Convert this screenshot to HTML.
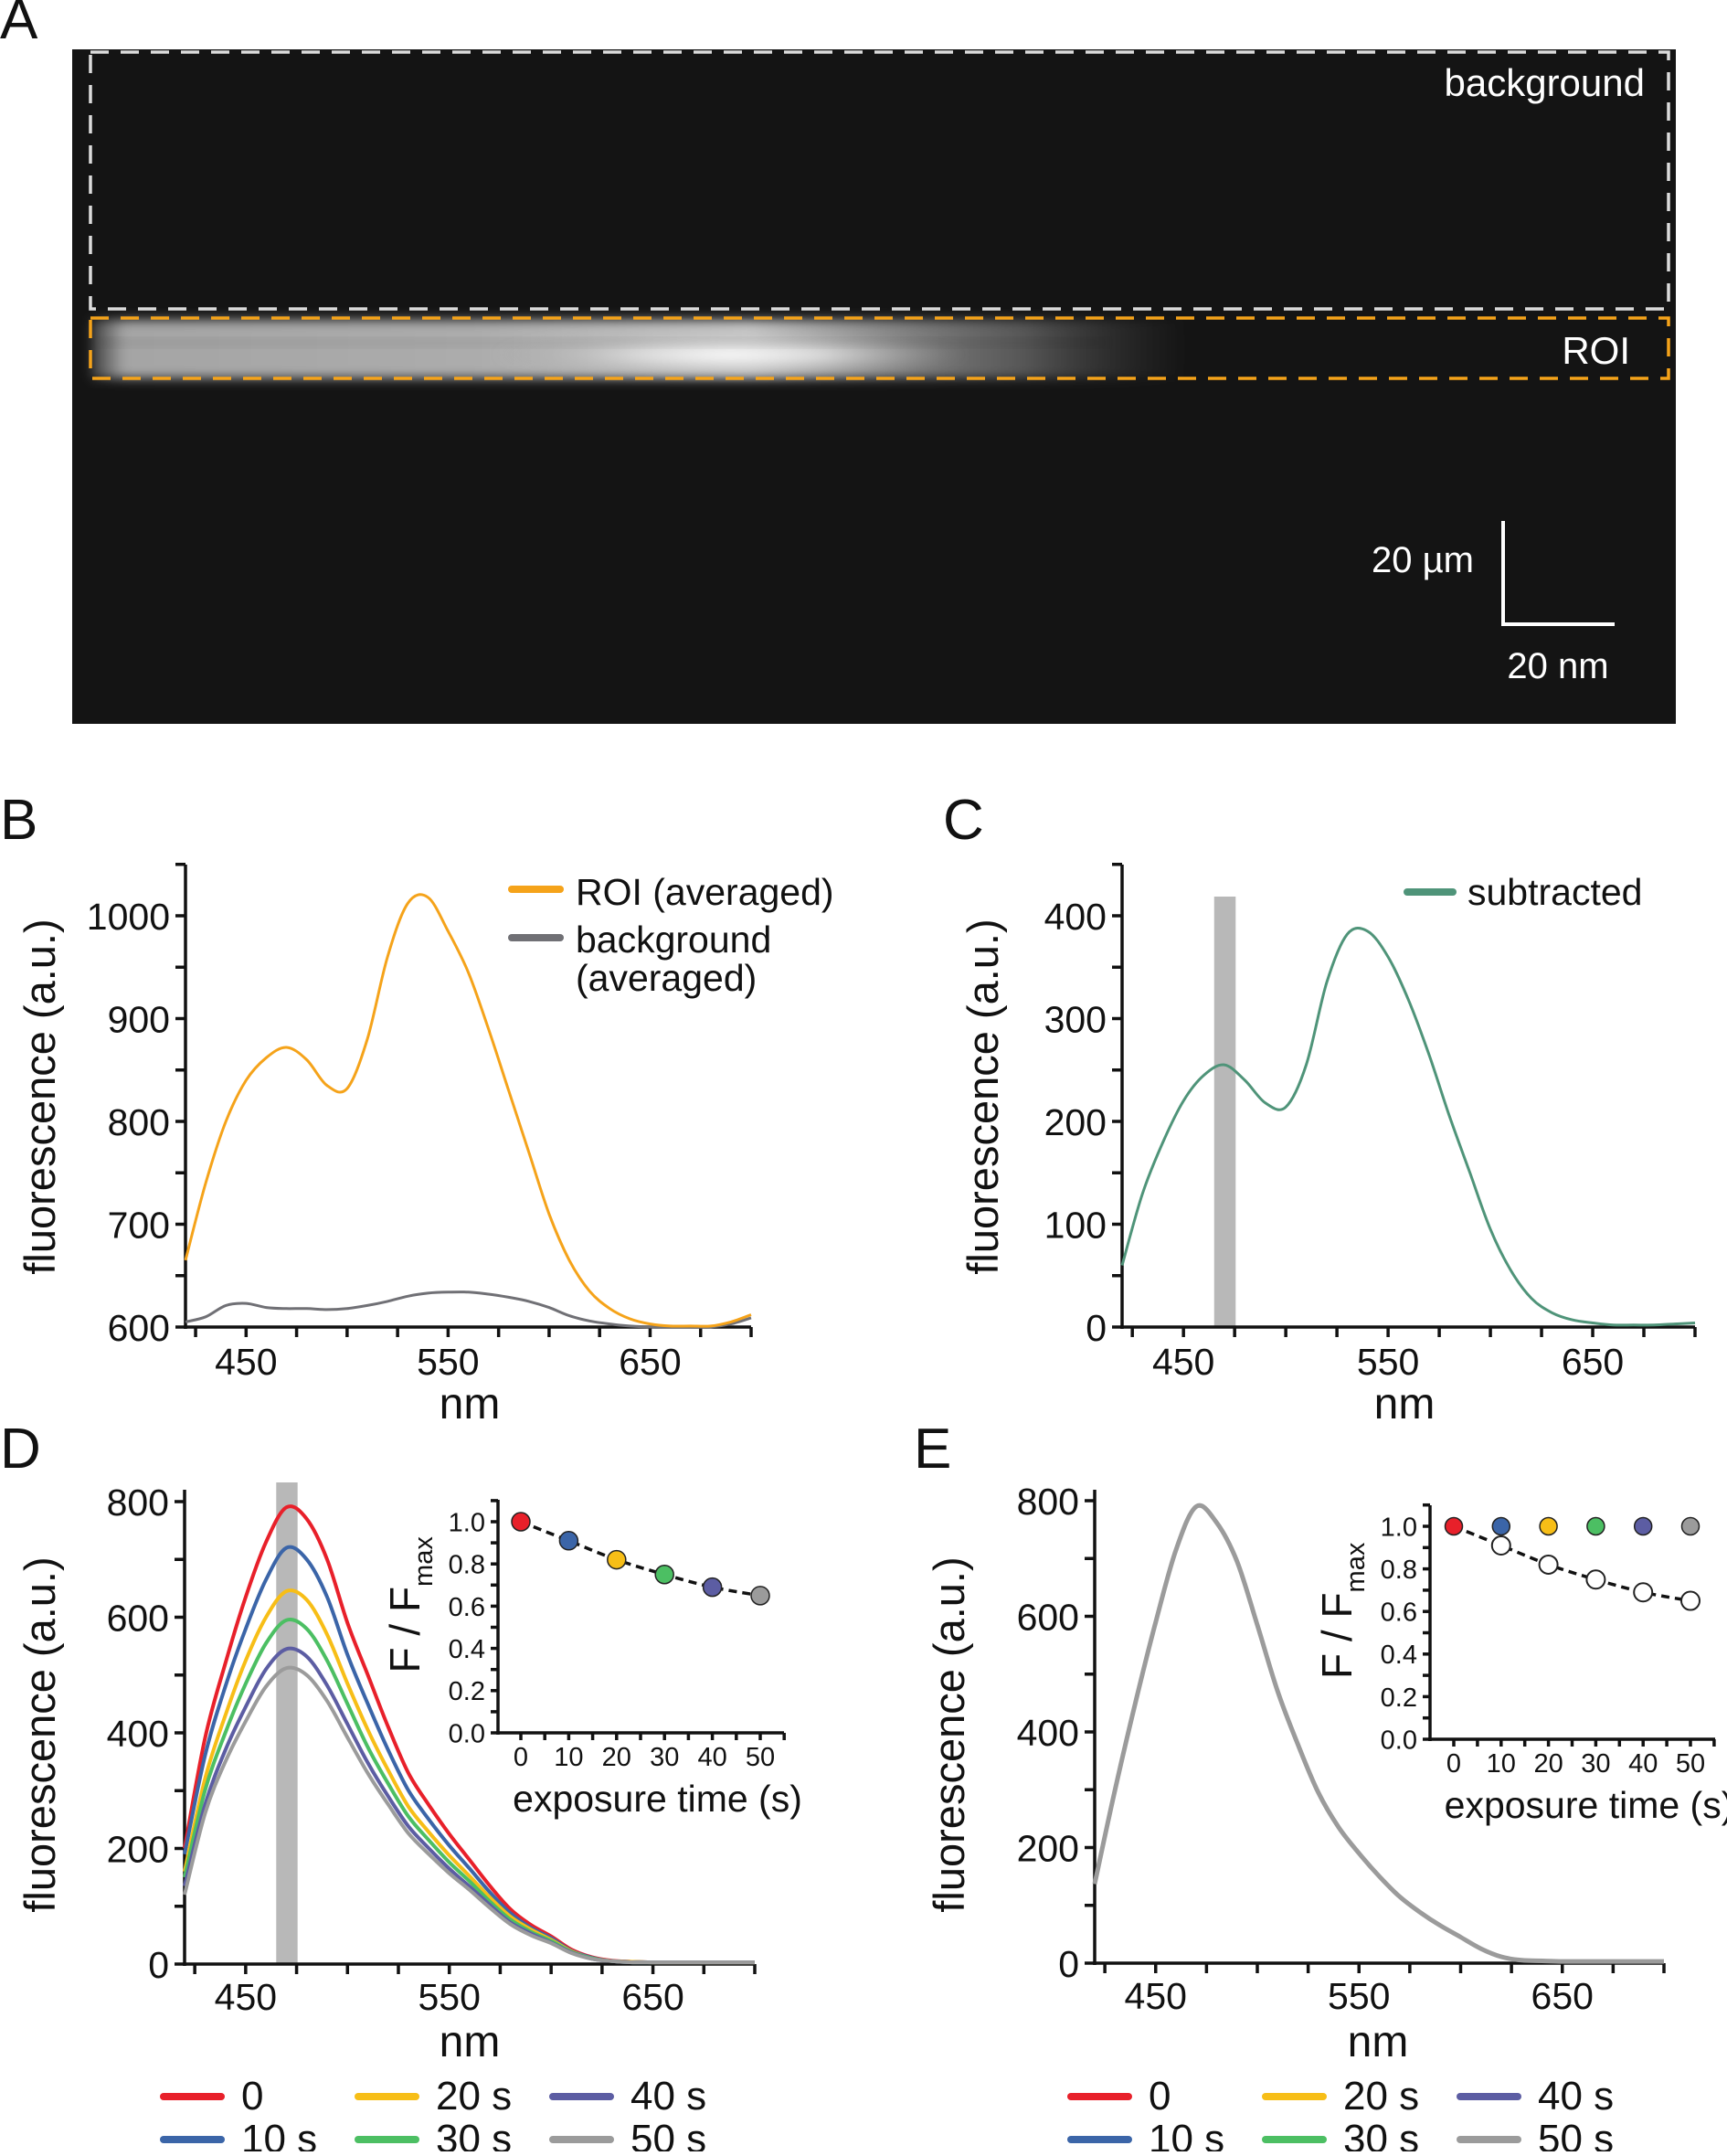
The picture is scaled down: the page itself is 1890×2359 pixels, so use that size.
<!DOCTYPE html>
<html><head><meta charset="utf-8"><style>
body{margin:0;background:#fff;}
svg text{font-family:"Liberation Sans",Arial,sans-serif;fill:#111;}
</style></head><body>
<svg id="fig" xmlns="http://www.w3.org/2000/svg" width="1890" height="2354" viewBox="0 0 1890 2354">
<defs>
<radialGradient id="glow" cx="0.5" cy="0.5" r="0.5">
<stop offset="0" stop-color="#ffffff" stop-opacity="1"/>
<stop offset="0.4" stop-color="#e0e0e0" stop-opacity="0.9"/>
<stop offset="1" stop-color="#a0a0a0" stop-opacity="0"/>
</radialGradient>
<linearGradient id="bandh" x1="0" x2="1" y1="0" y2="0">
<stop offset="0" stop-color="#aaa" stop-opacity="0.3"/>
<stop offset="0.03" stop-color="#b5b5b5" stop-opacity="0.9"/>
<stop offset="0.35" stop-color="#bdbdbd" stop-opacity="0.9"/>
<stop offset="0.6" stop-color="#d0d0d0" stop-opacity="0.95"/>
<stop offset="0.85" stop-color="#999" stop-opacity="0.5"/>
<stop offset="1" stop-color="#666" stop-opacity="0"/>
</linearGradient>
<filter id="blur" x="-10%" y="-60%" width="120%" height="220%"><feGaussianBlur stdDeviation="6"/></filter>
</defs>
<text x="0" y="42" font-size="62">A</text>
<g>
<rect x="79" y="54" width="1755" height="738" fill="#141414"/>
<rect x="100" y="350" width="1200" height="64" fill="url(#bandh)" filter="url(#blur)"/>
<ellipse cx="800" cy="388" rx="260" ry="26" fill="url(#glow)" filter="url(#blur)"/>
<rect x="110" y="372" width="1100" height="6" fill="#000" opacity="0.12" filter="url(#blur)"/>
</g>
<rect x="99" y="57" width="1727" height="281" fill="none" stroke="#dcdcdc" stroke-width="3.5" stroke-dasharray="20 13"/>
<rect x="99" y="348" width="1727" height="66" fill="none" stroke="#f5a31a" stroke-width="3.5" stroke-dasharray="20 13"/>
<text x="1800" y="105" font-size="42" text-anchor="end" style="fill:#fff">background</text>
<text x="1784" y="398" font-size="42" text-anchor="end" style="fill:#fff">ROI</text>
<path d="M1645 570 V683 H1767" fill="none" stroke="#fff" stroke-width="4"/>
<text x="1613" y="626" font-size="40" text-anchor="end" style="fill:#fff">20 µm</text>
<text x="1705" y="742" font-size="40" text-anchor="middle" style="fill:#fff">20 nm</text>
<text x="0" y="918" font-size="62">B</text>
<text x="1032" y="918" font-size="62">C</text>
<text x="0" y="1606" font-size="62">D</text>
<text x="1000" y="1606" font-size="62">E</text>
<g id="plots"></g>
</svg>
<script>
const wavelengths=[420,430,440,450,460,470,480,490,500,510,520,530,540,550,560,570,580,590,600,610,620,630,640,650,660,670,680,690,700];
const roiValues=[665,740,800,840,862,872,860,835,832,880,960,1012,1018,985,945,890,830,770,710,665,635,618,608,603,601,601,601,605,612];
const bgValues=[605,610,621,623,619,618,618,617,618,621,625,630,633,634,634,632,629,625,619,611,606,603,601,600,600,600,600,603,609];
const subValues=[60,130,180,220,245,255,240,218,214,255,335,382,385,360,318,265,205,150,95,55,28,14,7,4,2,2,2,3,4];
const dRed=[200,390,520,635,730,790,770,700,590,500,410,330,275,225,180,135,95,68,48,25,12,6,4,3,3,3,3,3,3];
const dBlue=[190,360,480,580,665,720,700,635,535,450,370,300,250,205,165,124,88,63,45,23,11,5,4,3,3,3,3,3,3];
const dYellow=[160,320,430,525,600,645,630,570,485,405,335,272,228,188,152,115,82,60,42,22,10,5,4,3,3,3,3,3,3];
const dGreen=[150,300,400,485,555,595,580,525,450,375,312,255,214,176,143,108,77,56,40,21,10,5,3,3,3,3,3,3,3];
const dPurple=[135,275,370,445,510,545,532,482,415,348,290,238,200,165,134,102,72,53,37,20,9,5,3,3,3,3,3,3,3];
const dGray=[120,260,350,420,480,512,500,455,392,330,276,226,190,157,128,97,69,50,36,19,9,5,3,3,3,3,3,3,3];
const eSpectrum=[137,300,450,590,715,790,762,695,585,470,378,295,235,190,150,115,88,65,45,25,11,5,4,3,3,3,3,3,3];
const exposureTimes=[0,10,20,30,40,50];
const fNorm=[1.0,0.91,0.82,0.75,0.69,0.65];
const eCorrected=[1.0,1.0,1.0,1.0,1.0,1.0];
const xTicks=[450,550,650];
const bYTicks=[600,700,800,900,1000];
const cYTicks=[0,100,200,300,400];
const dYTicks=[0,200,400,600,800];
const insetYTicks=[0.0,0.2,0.4,0.6,0.8,1.0];
const seriesColors=['#e8202a','#3b65a8','#f7be17','#4cbf63','#5c5da3','#9b9b9b'];
const seriesLabels=['0','10 s','20 s','30 s','40 s','50 s'];

const NS='http://www.w3.org/2000/svg';
const root=document.getElementById('plots');
function mk(tag,attrs,parent,text){const e=document.createElementNS(NS,tag);for(const k in attrs)e.setAttribute(k,attrs[k]);if(text!==undefined)e.textContent=text;(parent||root).appendChild(e);return e;}
function scale(d0,d1,r0,r1){return v=>r0+(v-d0)/(d1-d0)*(r1-r0);}

function axes(o){
  const g=mk('g',{});
  
  
  const x=o.x,y=o.y;
  mk('line',{x1:o.L,y1:o.T,x2:o.L,y2:o.B+2,stroke:'#111','stroke-width':o.sw},g);
  mk('line',{x1:o.L-2,y1:o.B,x2:o.R,y2:o.B,stroke:'#111','stroke-width':o.sw},g);
  for(let v=o.xmin;v<=o.xmax+1e-9;v+=o.xminor){const px=x(v);mk('line',{x1:px,y1:o.B,x2:px,y2:o.B+o.tl,stroke:'#111','stroke-width':o.sw},g);}
  for(let v=o.ymin;v<=o.ymax+1e-9;v+=o.yminor){const py=y(v);mk('line',{x1:o.L,y1:py,x2:o.L-o.tl,y2:py,stroke:'#111','stroke-width':o.sw},g);}
  o.xt.forEach(v=>{const t=mk('text',{x:x(v),y:o.B+o.xlo,'font-size':o.fs,'text-anchor':'middle'},g,o.xfmt?o.xfmt(v):String(v));});
  o.yt.forEach(v=>{const t=mk('text',{x:o.L-o.tl-6,y:y(v)+o.fs*0.36,'font-size':o.fs,'text-anchor':'end'},g,o.yfmt?o.yfmt(v):String(v));});
  return g;
}
function line(xs,ys,x,y,color,w,name,straight){
  const P=xs.map((v,i)=>[x(v),y(ys[i])]);
  let d='M'+P[0][0].toFixed(1)+' '+P[0][1].toFixed(1);
  for(let i=0;i<P.length-1;i++){
    if(straight){d+=' L'+P[i+1][0].toFixed(1)+' '+P[i+1][1].toFixed(1);continue;}
    const p0=P[Math.max(0,i-1)],p1=P[i],p2=P[i+1],p3=P[Math.min(P.length-1,i+2)];
    const c1=[p1[0]+(p2[0]-p0[0])/6,p1[1]+(p2[1]-p0[1])/6],c2=[p2[0]-(p3[0]-p1[0])/6,p2[1]-(p3[1]-p1[1])/6];
    d+=` C${c1[0].toFixed(1)} ${c1[1].toFixed(1)} ${c2[0].toFixed(1)} ${c2[1].toFixed(1)} ${p2[0].toFixed(1)} ${p2[1].toFixed(1)}`;
  }
  const p=mk('path',{d:d,fill:'none',stroke:color,'stroke-width':w,'stroke-linejoin':'round'});
  
  
  return p;
}
function ytitle(cx,cy,txt,fs,name){const t=mk('text',{x:0,y:0,'font-size':fs,'text-anchor':'middle',transform:`translate(${cx},${cy}) rotate(-90)`},root,txt);return t;}
function label(x,y,txt,fs,anchor,name){const t=mk('text',{x:x,y:y,'font-size':fs,'text-anchor':anchor||'start'},root,txt);return t;}
function legLine(x1,x2,y,color,name){const l=mk('line',{x1:x1,y1:y,x2:x2,y2:y,stroke:color,'stroke-width':8,'stroke-linecap':'round'});}

// Panel B
{const L=203,R=822,T=946,B=1452;const x=scale(420,700,L,R),y=scale(600,1000,B,1002);
axes({name:'panel-b',L,R,T,B,x,y,xmin:425,xmax:700,xminor:25,ymin:600,ymax:1050,yminor:50,xt:xTicks,yt:bYTicks,fs:41,tl:11,xlo:52,sw:3.5});
line(wavelengths,bgValues,x,y,'#707075',3,'background-averaged-line');
line(wavelengths,roiValues,x,y,'#f5a31a',3,'roi-averaged-line');
ytitle(60,1200,'fluorescence (a.u.)',47,'y-axis-title-b');
label(514,1552,'nm',48,'middle','x-axis-title-b');
legLine(560,613,973,'#f5a31a','legend-swatch-roi');label(630,990,'ROI (averaged)',41,'start','legend-label-roi');
legLine(560,613,1026,'#707075','legend-swatch-background');label(630,1042,'background',41,'start','legend-label-background');label(630,1084,'(averaged)',41,'start','legend-label-background-2');}

// Panel C
{const L=1228,R=1855,T=946,B=1452;const x=scale(420,700,L,R),y=scale(0,400,B,1002);
const bar=mk('rect',{x:x(465),y:981,width:x(475.5)-x(465),height:B-981,fill:'#b8b8b8'});
axes({name:'panel-c',L,R,T,B,x,y,xmin:425,xmax:700,xminor:25,ymin:0,ymax:450,yminor:50,xt:xTicks,yt:cYTicks,fs:41,tl:11,xlo:52,sw:3.5});
line(wavelengths,subValues,x,y,'#4f9479',3,'subtracted-line');
ytitle(1092,1200,'fluorescence (a.u.)',47,'y-axis-title-c');
label(1537,1552,'nm',48,'middle','x-axis-title-c');
legLine(1540,1590,976,'#4f9479','legend-swatch-subtracted');label(1606,990,'subtracted',41,'start','legend-label-subtracted');}

const dSeries=[dRed,dBlue,dYellow,dGreen,dPurple,dGray];
function inset(name,L,R,T,B,x0,x50,y1,pts,extra){
  const x=scale(0,50,x0,x50),y=scale(0,1,B,y1);
  axes({name:name,L,R,T,B,x,y,xmin:0,xmax:55,xminor:5,ymin:0,ymax:1.1,yminor:0.1,xt:exposureTimes,yt:insetYTicks,fs:29,tl:8,xlo:36,sw:3.5,yfmt:v=>v.toFixed(1)});
  line(exposureTimes,fNorm,x,y,'#111',3.5,name+'-fit-line').setAttribute('stroke-dasharray','9 6');
  if(extra)extra(x,y);
  pts(x,y);
  label((L+R)/2+18,B+86,'exposure time (s)',41,'middle',name+'-x-axis-title');
  const t=mk('text',{x:0,y:0,'font-size':46,transform:`translate(${L-86},${(T+B)/2+62}) rotate(-90)`},root);
  
  
  mk('tspan',{},t,'F / F');mk('tspan',{'font-size':29,dy:14},t,'max');
}
// Panel D
{const L=202,R=826,T=1630,B=2149;const x=scale(420,700,L,R),y=scale(0,800,B,1643);
const bar=mk('rect',{x:x(465),y:1622,width:x(475.5)-x(465),height:B-1622,fill:'#b8b8b8'});
axes({name:'panel-d',L,R,T,B,x,y,xmin:425,xmax:700,xminor:25,ymin:0,ymax:800,yminor:100,xt:xTicks,yt:dYTicks,fs:41,tl:11,xlo:50,sw:3.5});
dSeries.forEach((s,i)=>line(wavelengths,s,x,y,seriesColors[i],4,'spectrum-'+seriesLabels[i].replace(' ','')));
ytitle(60,1898,'fluorescence (a.u.)',47,'y-axis-title-d');
label(514,2250,'nm',48,'middle','x-axis-title-d');
inset('inset-d',545,858,1641,1896,570,832,1665,(x,y)=>{fNorm.forEach((v,i)=>{const c=mk('circle',{cx:x(exposureTimes[i]),cy:y(v),r:10,fill:seriesColors[i],stroke:'#222','stroke-width':1.5});});});}

// Panel E
{const L=1198,R=1821,T=1630,B=2148;const y=scale(0,800,B,1642);
const xs=scale(420,700,1198,1821);
axes({name:'panel-e',L,R,T,B,x:xs,y,xmin:425,xmax:700,xminor:25,ymin:0,ymax:800,yminor:100,xt:xTicks,yt:dYTicks,fs:41,tl:11,xlo:50,sw:3.5});
[0,1,2,3,4,5].forEach(i=>line(wavelengths,eSpectrum,xs,y,seriesColors[i],i==5?5:4,'corrected-spectrum-'+seriesLabels[i].replace(' ','')));
ytitle(1055,1898,'fluorescence (a.u.)',47,'y-axis-title-e');
label(1508,2250,'nm',48,'middle','x-axis-title-e');
inset('inset-e',1565,1877,1647,1903,1591,1850,1670,(x,y)=>{
 fNorm.forEach((v,i)=>{if(i==0)return;const c=mk('circle',{cx:x(exposureTimes[i]),cy:y(v),r:10,fill:'#fff',stroke:'#222','stroke-width':2});});
 eCorrected.forEach((v,i)=>{const c=mk('circle',{cx:x(exposureTimes[i]),cy:y(v),r:9.5,fill:seriesColors[i],stroke:'#222','stroke-width':1.5});});
});}

function legend(x0,cols){
 seriesLabels.forEach((lab,i)=>{const col=Math.floor(i/2),row=i%2;const lx=x0+col*cols;const ly=row?2341:2294;
  legLine(lx,lx+63,ly,seriesColors[i],'legend-swatch-'+lab.replace(' ',''));
  label(lx+85,ly+14,lab,44,'start','legend-label-'+lab.replace(' ',''));});
}
legend(179,213);
legend(1172,213);
</script>
</body></html>
